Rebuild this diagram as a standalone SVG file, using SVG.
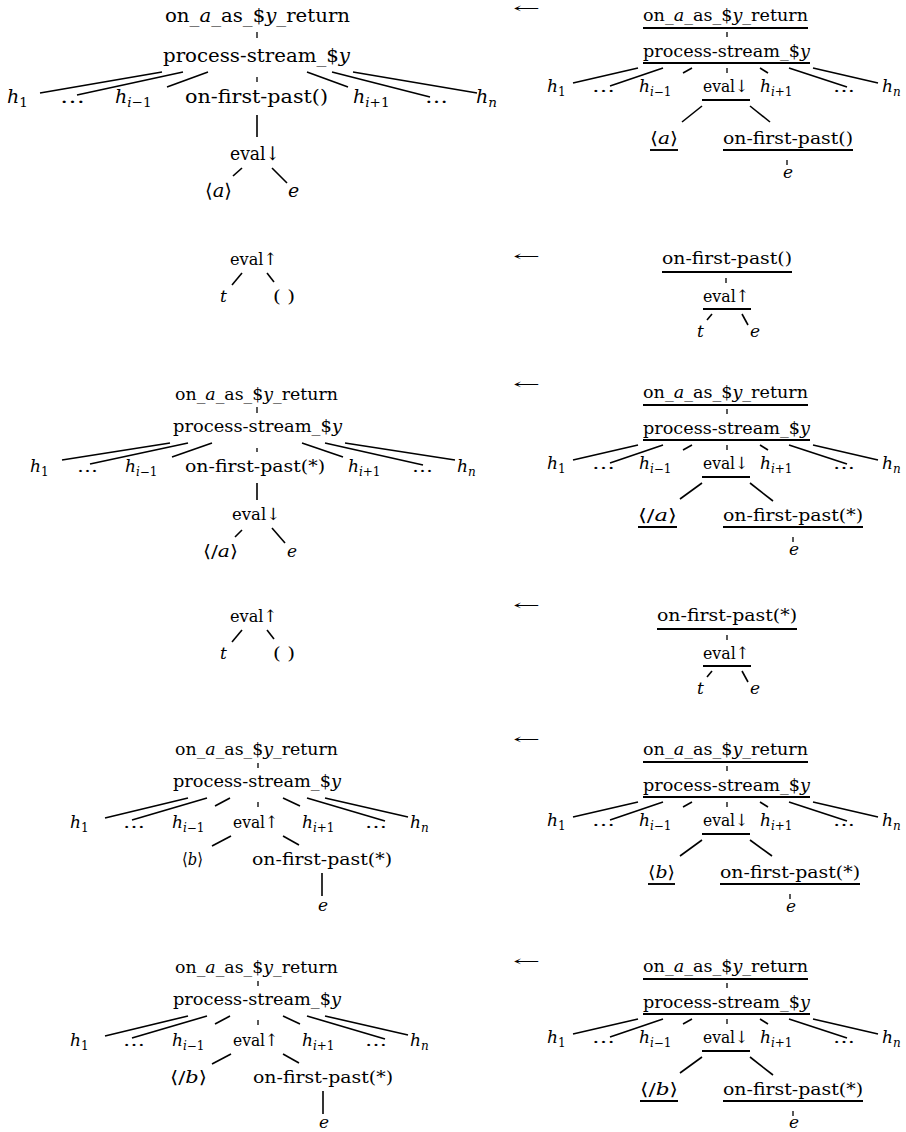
<svg xmlns="http://www.w3.org/2000/svg" width="906" height="1132" viewBox="0 0 906 1132">
<style>
.t{font-family:'DejaVu Serif','Liberation Serif',serif;font-size:17px;fill:#000}
.big{font-size:19px}
.ar{font-size:14px}
.i{font-style:italic}
.sb{font-size:12px}
.sbb{font-size:13.5px}
.e{stroke:#000;stroke-width:1.6;fill:none;stroke-linecap:butt}
.u{stroke:#000;stroke-width:1.9}
.tk{stroke:#000;stroke-width:1.3}
</style>
<rect width="906" height="1132" fill="#fff"/>

<g id="connectors">
 <g id="edges-p1l">
  <line class="tk" x1="257" y1="32" x2="257" y2="38"/>
  <line class="e" x1="162" y1="72" x2="40" y2="93"/>
  <line class="e" x1="183" y1="72" x2="77" y2="95"/>
  <line class="e" x1="208" y1="72" x2="167" y2="87"/>
  <line class="tk" x1="257" y1="77" x2="257" y2="82"/>
  <line class="e" x1="307" y1="72" x2="348" y2="87"/>
  <line class="e" x1="332" y1="72" x2="430" y2="97"/>
  <line class="e" x1="353" y1="72" x2="477" y2="93"/>
  <line class="e" x1="257" y1="115" x2="257" y2="137"/>
  <line class="e" x1="242" y1="168" x2="233" y2="176"/>
  <line class="e" x1="272" y1="168" x2="287" y2="183"/>
 </g>
 <g id="edges-p1r">
  <line class="u" x1="643" y1="28" x2="808" y2="28"/>
  <line class="tk" x1="727" y1="32" x2="727" y2="37"/>
  <line class="u" x1="643" y1="63" x2="810" y2="63"/>
  <line class="e" x1="638" y1="68" x2="573" y2="83"/>
  <line class="e" x1="663" y1="68" x2="610" y2="86"/>
  <line class="e" x1="692" y1="68" x2="683" y2="73"/>
  <line class="tk" x1="727" y1="68" x2="727" y2="73"/>
  <line class="e" x1="760" y1="68" x2="768" y2="73"/>
  <line class="e" x1="789" y1="68" x2="847" y2="87"/>
  <line class="e" x1="813" y1="68" x2="878" y2="83"/>
  <line class="u" x1="702" y1="100" x2="750" y2="100"/>
  <line class="e" x1="702" y1="106" x2="682" y2="122"/>
  <line class="e" x1="750" y1="106" x2="770" y2="122"/>
  <line class="u" x1="650" y1="150" x2="678" y2="150"/>
  <line class="u" x1="723" y1="150" x2="853" y2="150"/>
  <line class="tk" x1="787" y1="160" x2="787" y2="165"/>
 </g>
 <g id="edges-p2l">
  <line class="e" x1="242" y1="273" x2="232" y2="285"/>
  <line class="e" x1="267" y1="273" x2="274" y2="282"/>
 </g>
 <g id="edges-p2r">
  <line class="u" x1="662" y1="272" x2="792" y2="272"/>
  <line class="tk" x1="726" y1="278" x2="726" y2="283"/>
  <line class="u" x1="703" y1="309" x2="751" y2="309"/>
  <line class="e" x1="712" y1="314" x2="707" y2="320"/>
  <line class="e" x1="742" y1="314" x2="748" y2="325"/>
 </g>
 <g id="edges-p3l">
  <line class="tk" x1="257" y1="407" x2="257" y2="413"/>
  <line class="e" x1="170" y1="443" x2="62" y2="460"/>
  <line class="e" x1="188" y1="443" x2="90" y2="464"/>
  <line class="e" x1="212" y1="443" x2="172" y2="457"/>
  <line class="tk" x1="257" y1="448" x2="257" y2="452"/>
  <line class="e" x1="302" y1="443" x2="343" y2="457"/>
  <line class="e" x1="325" y1="443" x2="423" y2="465"/>
  <line class="e" x1="345" y1="443" x2="455" y2="460"/>
  <line class="e" x1="257" y1="483" x2="257" y2="500"/>
  <line class="e" x1="242" y1="530" x2="235" y2="537"/>
  <line class="e" x1="272" y1="528" x2="285" y2="543"/>
 </g>
 <g id="edges-p3r">
  <line class="u" x1="643" y1="405" x2="808" y2="405"/>
  <line class="tk" x1="727" y1="409" x2="727" y2="414"/>
  <line class="u" x1="643" y1="440" x2="810" y2="440"/>
  <line class="e" x1="638" y1="445" x2="573" y2="460"/>
  <line class="e" x1="663" y1="445" x2="610" y2="463"/>
  <line class="e" x1="692" y1="445" x2="683" y2="450"/>
  <line class="tk" x1="727" y1="445" x2="727" y2="450"/>
  <line class="e" x1="760" y1="445" x2="768" y2="450"/>
  <line class="e" x1="789" y1="445" x2="847" y2="464"/>
  <line class="e" x1="813" y1="445" x2="878" y2="460"/>
  <line class="u" x1="702" y1="477" x2="750" y2="477"/>
  <line class="e" x1="702" y1="483" x2="680" y2="499"/>
  <line class="e" x1="750" y1="483" x2="773" y2="501"/>
  <line class="u" x1="638" y1="527" x2="677" y2="527"/>
  <line class="u" x1="723" y1="527" x2="863" y2="527"/>
  <line class="tk" x1="793" y1="537" x2="793" y2="542"/>
 </g>
 <g id="edges-p4l">
  <line class="e" x1="242" y1="630" x2="232" y2="642"/>
  <line class="e" x1="267" y1="630" x2="274" y2="639"/>
 </g>
 <g id="edges-p4r">
  <line class="u" x1="657" y1="629" x2="797" y2="629"/>
  <line class="tk" x1="727" y1="635" x2="727" y2="640"/>
  <line class="u" x1="703" y1="666" x2="751" y2="666"/>
  <line class="e" x1="712" y1="671" x2="707" y2="677"/>
  <line class="e" x1="742" y1="671" x2="748" y2="682"/>
 </g>
 <g id="edges-p5l">
  <line class="tk" x1="258" y1="763" x2="258" y2="768"/>
  <line class="e" x1="188" y1="798" x2="105" y2="818"/>
  <line class="e" x1="207" y1="798" x2="132" y2="820"/>
  <line class="e" x1="230" y1="798" x2="215" y2="806"/>
  <line class="tk" x1="258" y1="802" x2="258" y2="807"/>
  <line class="e" x1="283" y1="798" x2="300" y2="806"/>
  <line class="e" x1="307" y1="798" x2="385" y2="821"/>
  <line class="e" x1="325" y1="798" x2="408" y2="817"/>
  <line class="e" x1="231" y1="836" x2="212" y2="846"/>
  <line class="e" x1="283" y1="836" x2="299" y2="845"/>
  <line class="e" x1="322" y1="873" x2="322" y2="896"/>
 </g>
 <g id="edges-p5r">
  <line class="u" x1="643" y1="762" x2="808" y2="762"/>
  <line class="tk" x1="727" y1="766" x2="727" y2="771"/>
  <line class="u" x1="643" y1="797" x2="810" y2="797"/>
  <line class="e" x1="638" y1="802" x2="573" y2="817"/>
  <line class="e" x1="663" y1="802" x2="610" y2="820"/>
  <line class="e" x1="692" y1="802" x2="683" y2="807"/>
  <line class="tk" x1="727" y1="802" x2="727" y2="807"/>
  <line class="e" x1="760" y1="802" x2="768" y2="807"/>
  <line class="e" x1="789" y1="802" x2="847" y2="821"/>
  <line class="e" x1="813" y1="802" x2="878" y2="817"/>
  <line class="u" x1="702" y1="834" x2="750" y2="834"/>
  <line class="e" x1="702" y1="840" x2="680" y2="856"/>
  <line class="e" x1="750" y1="840" x2="772" y2="856"/>
  <line class="u" x1="648" y1="884" x2="675" y2="884"/>
  <line class="u" x1="720" y1="884" x2="860" y2="884"/>
  <line class="tk" x1="790" y1="894" x2="790" y2="899"/>
 </g>
 <g id="edges-p6l">
  <line class="tk" x1="258" y1="981" x2="258" y2="986"/>
  <line class="e" x1="188" y1="1016" x2="105" y2="1036"/>
  <line class="e" x1="207" y1="1016" x2="132" y2="1038"/>
  <line class="e" x1="230" y1="1016" x2="215" y2="1024"/>
  <line class="tk" x1="258" y1="1020" x2="258" y2="1025"/>
  <line class="e" x1="283" y1="1016" x2="300" y2="1024"/>
  <line class="e" x1="307" y1="1016" x2="385" y2="1039"/>
  <line class="e" x1="325" y1="1016" x2="408" y2="1035"/>
  <line class="e" x1="231" y1="1054" x2="212" y2="1064"/>
  <line class="e" x1="283" y1="1054" x2="299" y2="1063"/>
  <line class="e" x1="323" y1="1091" x2="323" y2="1114"/>
 </g>
 <g id="edges-p6r">
  <line class="u" x1="643" y1="979" x2="808" y2="979"/>
  <line class="tk" x1="727" y1="983" x2="727" y2="988"/>
  <line class="u" x1="643" y1="1014" x2="810" y2="1014"/>
  <line class="e" x1="638" y1="1019" x2="573" y2="1034"/>
  <line class="e" x1="663" y1="1019" x2="610" y2="1037"/>
  <line class="e" x1="692" y1="1019" x2="683" y2="1024"/>
  <line class="tk" x1="727" y1="1019" x2="727" y2="1024"/>
  <line class="e" x1="760" y1="1019" x2="768" y2="1024"/>
  <line class="e" x1="789" y1="1019" x2="847" y2="1038"/>
  <line class="e" x1="813" y1="1019" x2="878" y2="1034"/>
  <line class="u" x1="702" y1="1051" x2="750" y2="1051"/>
  <line class="e" x1="702" y1="1057" x2="680" y2="1073"/>
  <line class="e" x1="750" y1="1057" x2="773" y2="1075"/>
  <line class="u" x1="640" y1="1101" x2="678" y2="1101"/>
  <line class="u" x1="723" y1="1101" x2="863" y2="1101"/>
  <line class="tk" x1="793" y1="1111" x2="793" y2="1116"/>
 </g>
</g>

<g id="arrow1"><text class="t ar" x="513" y="13" textLength="27" lengthAdjust="spacingAndGlyphs">←</text></g>
<g id="arrow2"><text class="t ar" x="513" y="261" textLength="27" lengthAdjust="spacingAndGlyphs">←</text></g>
<g id="arrow3"><text class="t ar" x="513" y="389" textLength="27" lengthAdjust="spacingAndGlyphs">←</text></g>
<g id="arrow4"><text class="t ar" x="513" y="610" textLength="27" lengthAdjust="spacingAndGlyphs">←</text></g>
<g id="arrow5"><text class="t ar" x="513" y="744" textLength="27" lengthAdjust="spacingAndGlyphs">←</text></g>
<g id="arrow6"><text class="t ar" x="513" y="966" textLength="27" lengthAdjust="spacingAndGlyphs">←</text></g>

<g id="p1l-root"><text class="t big" x="165" y="22" textLength="185" lengthAdjust="spacingAndGlyphs">on_<tspan class="i">a</tspan>_as_$<tspan class="i">y</tspan>_return</text></g>
<g id="p1l-ps"><text class="t big" x="163" y="62" textLength="187" lengthAdjust="spacingAndGlyphs">process-stream_$<tspan class="i">y</tspan></text></g>
<g id="p1l-h1"><text class="t big" x="7" y="103"><tspan class="i">h</tspan><tspan class="sbb" dy="4">1</tspan></text></g>
<g id="p1l-d1"><text class="t big" x="60" y="103" textLength="25" lengthAdjust="spacingAndGlyphs">…</text></g>
<g id="p1l-him1"><text class="t big" x="115" y="103"><tspan class="i">h</tspan><tspan class="sbb" dy="4"><tspan class="i">i</tspan>−1</tspan></text></g>
<g id="p1l-ofp"><text class="t big" x="185" y="103" textLength="143" lengthAdjust="spacingAndGlyphs">on-first-past()</text></g>
<g id="p1l-hip1"><text class="t big" x="353" y="103"><tspan class="i">h</tspan><tspan class="sbb" dy="4"><tspan class="i">i</tspan>+1</tspan></text></g>
<g id="p1l-d2"><text class="t big" x="425" y="103" textLength="23" lengthAdjust="spacingAndGlyphs">…</text></g>
<g id="p1l-hn"><text class="t big" x="476" y="103"><tspan class="i">h</tspan><tspan class="sbb i" dy="4">n</tspan></text></g>
<g id="p1l-eval"><text class="t big" x="230" y="160" textLength="50" lengthAdjust="spacingAndGlyphs">eval↓</text></g>
<g id="p1l-a"><text class="t big" x="205" y="197" textLength="27" lengthAdjust="spacingAndGlyphs">⟨<tspan class="i">a</tspan>⟩</text></g>
<g id="p1l-e"><text class="t big i" x="288" y="197">e</text></g>

<g id="p1r-root"><text class="t" x="643" y="21" textLength="165" lengthAdjust="spacingAndGlyphs">on_<tspan class="i">a</tspan>_as_$<tspan class="i">y</tspan>_return</text></g>
<g id="p1r-ps"><text class="t" x="643" y="57" textLength="167" lengthAdjust="spacingAndGlyphs">process-stream_$<tspan class="i">y</tspan></text></g>
<g id="p1r-h1"><text class="t" x="547" y="92"><tspan class="i">h</tspan><tspan class="sb" dy="4">1</tspan></text></g>
<g id="p1r-d1"><text class="t" x="592" y="92" textLength="23" lengthAdjust="spacingAndGlyphs">…</text></g>
<g id="p1r-him1"><text class="t" x="639" y="92"><tspan class="i">h</tspan><tspan class="sb" dy="4"><tspan class="i">i</tspan>−1</tspan></text></g>
<g id="p1r-eval"><text class="t" x="703" y="92" textLength="45" lengthAdjust="spacingAndGlyphs">eval↓</text></g>
<g id="p1r-hip1"><text class="t" x="760" y="92"><tspan class="i">h</tspan><tspan class="sb" dy="4"><tspan class="i">i</tspan>+1</tspan></text></g>
<g id="p1r-d2"><text class="t" x="833" y="92" textLength="22" lengthAdjust="spacingAndGlyphs">…</text></g>
<g id="p1r-hn"><text class="t" x="882" y="92"><tspan class="i">h</tspan><tspan class="sb i" dy="4">n</tspan></text></g>
<g id="p1r-a"><text class="t" x="650" y="144" textLength="28" lengthAdjust="spacingAndGlyphs">⟨<tspan class="i">a</tspan>⟩</text></g>
<g id="p1r-ofp"><text class="t" x="723" y="144" textLength="130" lengthAdjust="spacingAndGlyphs">on-first-past()</text></g>
<g id="p1r-e"><text class="t i" x="783" y="178">e</text></g>

<g id="p2l-eval"><text class="t" x="230" y="265" textLength="47" lengthAdjust="spacingAndGlyphs">eval↑</text></g>
<g id="p2l-t"><text class="t i" x="220" y="302">t</text></g>
<g id="p2l-nil"><text class="t" x="273" y="302" textLength="22" lengthAdjust="spacingAndGlyphs">( )</text></g>

<g id="p2r-ofp"><text class="t" x="662" y="264" textLength="130" lengthAdjust="spacingAndGlyphs">on-first-past()</text></g>
<g id="p2r-eval"><text class="t" x="703" y="302" textLength="46" lengthAdjust="spacingAndGlyphs">eval↑</text></g>
<g id="p2r-t"><text class="t i" x="697" y="337">t</text></g>
<g id="p2r-e"><text class="t i" x="750" y="337">e</text></g>

<g id="p3l-root"><text class="t" x="175" y="400" textLength="163" lengthAdjust="spacingAndGlyphs">on_<tspan class="i">a</tspan>_as_$<tspan class="i">y</tspan>_return</text></g>
<g id="p3l-ps"><text class="t" x="173" y="432" textLength="169" lengthAdjust="spacingAndGlyphs">process-stream_$<tspan class="i">y</tspan></text></g>
<g id="p3l-h1"><text class="t" x="30" y="472"><tspan class="i">h</tspan><tspan class="sb" dy="4">1</tspan></text></g>
<g id="p3l-d1"><text class="t" x="77" y="472" textLength="21" lengthAdjust="spacingAndGlyphs">…</text></g>
<g id="p3l-him1"><text class="t" x="125" y="472"><tspan class="i">h</tspan><tspan class="sb" dy="4"><tspan class="i">i</tspan>−1</tspan></text></g>
<g id="p3l-ofp"><text class="t" x="185" y="472" textLength="140" lengthAdjust="spacingAndGlyphs">on-first-past(*)</text></g>
<g id="p3l-hip1"><text class="t" x="348" y="472"><tspan class="i">h</tspan><tspan class="sb" dy="4"><tspan class="i">i</tspan>+1</tspan></text></g>
<g id="p3l-d2"><text class="t" x="412" y="472" textLength="21" lengthAdjust="spacingAndGlyphs">…</text></g>
<g id="p3l-hn"><text class="t" x="457" y="472"><tspan class="i">h</tspan><tspan class="sb i" dy="4">n</tspan></text></g>
<g id="p3l-eval"><text class="t" x="232" y="520" textLength="48" lengthAdjust="spacingAndGlyphs">eval↓</text></g>
<g id="p3l-a"><text class="t" x="203" y="557" textLength="35" lengthAdjust="spacingAndGlyphs">⟨/<tspan class="i">a</tspan>⟩</text></g>
<g id="p3l-e"><text class="t i" x="287" y="557">e</text></g>

<g id="p3r-root"><text class="t" x="643" y="398" textLength="165" lengthAdjust="spacingAndGlyphs">on_<tspan class="i">a</tspan>_as_$<tspan class="i">y</tspan>_return</text></g>
<g id="p3r-ps"><text class="t" x="643" y="434" textLength="167" lengthAdjust="spacingAndGlyphs">process-stream_$<tspan class="i">y</tspan></text></g>
<g id="p3r-h1"><text class="t" x="547" y="469"><tspan class="i">h</tspan><tspan class="sb" dy="4">1</tspan></text></g>
<g id="p3r-d1"><text class="t" x="592" y="469" textLength="23" lengthAdjust="spacingAndGlyphs">…</text></g>
<g id="p3r-him1"><text class="t" x="639" y="469"><tspan class="i">h</tspan><tspan class="sb" dy="4"><tspan class="i">i</tspan>−1</tspan></text></g>
<g id="p3r-eval"><text class="t" x="703" y="469" textLength="45" lengthAdjust="spacingAndGlyphs">eval↓</text></g>
<g id="p3r-hip1"><text class="t" x="760" y="469"><tspan class="i">h</tspan><tspan class="sb" dy="4"><tspan class="i">i</tspan>+1</tspan></text></g>
<g id="p3r-d2"><text class="t" x="833" y="469" textLength="22" lengthAdjust="spacingAndGlyphs">…</text></g>
<g id="p3r-hn"><text class="t" x="882" y="469"><tspan class="i">h</tspan><tspan class="sb i" dy="4">n</tspan></text></g>
<g id="p3r-a"><text class="t" x="638" y="521" textLength="39" lengthAdjust="spacingAndGlyphs">⟨/<tspan class="i">a</tspan>⟩</text></g>
<g id="p3r-ofp"><text class="t" x="723" y="521" textLength="140" lengthAdjust="spacingAndGlyphs">on-first-past(*)</text></g>
<g id="p3r-e"><text class="t i" x="789" y="555">e</text></g>

<g id="p4l-eval"><text class="t" x="230" y="622" textLength="47" lengthAdjust="spacingAndGlyphs">eval↑</text></g>
<g id="p4l-t"><text class="t i" x="220" y="659">t</text></g>
<g id="p4l-nil"><text class="t" x="273" y="659" textLength="22" lengthAdjust="spacingAndGlyphs">( )</text></g>

<g id="p4r-ofp"><text class="t" x="657" y="621" textLength="140" lengthAdjust="spacingAndGlyphs">on-first-past(*)</text></g>
<g id="p4r-eval"><text class="t" x="703" y="659" textLength="46" lengthAdjust="spacingAndGlyphs">eval↑</text></g>
<g id="p4r-t"><text class="t i" x="697" y="694">t</text></g>
<g id="p4r-e"><text class="t i" x="750" y="694">e</text></g>

<g id="p5l-root"><text class="t" x="175" y="755" textLength="163" lengthAdjust="spacingAndGlyphs">on_<tspan class="i">a</tspan>_as_$<tspan class="i">y</tspan>_return</text></g>
<g id="p5l-ps"><text class="t" x="173" y="787" textLength="168" lengthAdjust="spacingAndGlyphs">process-stream_$<tspan class="i">y</tspan></text></g>
<g id="p5l-h1"><text class="t" x="70" y="828"><tspan class="i">h</tspan><tspan class="sb" dy="4">1</tspan></text></g>
<g id="p5l-d1"><text class="t" x="123" y="828" textLength="22" lengthAdjust="spacingAndGlyphs">…</text></g>
<g id="p5l-him1"><text class="t" x="172" y="828"><tspan class="i">h</tspan><tspan class="sb" dy="4"><tspan class="i">i</tspan>−1</tspan></text></g>
<g id="p5l-eval"><text class="t" x="233" y="828" textLength="45" lengthAdjust="spacingAndGlyphs">eval↑</text></g>
<g id="p5l-hip1"><text class="t" x="302" y="828"><tspan class="i">h</tspan><tspan class="sb" dy="4"><tspan class="i">i</tspan>+1</tspan></text></g>
<g id="p5l-d2"><text class="t" x="365" y="828" textLength="22" lengthAdjust="spacingAndGlyphs">…</text></g>
<g id="p5l-hn"><text class="t" x="410" y="828"><tspan class="i">h</tspan><tspan class="sb i" dy="4">n</tspan></text></g>
<g id="p5l-b"><text class="t" x="182" y="865" textLength="21" lengthAdjust="spacingAndGlyphs">⟨<tspan class="i">b</tspan>⟩</text></g>
<g id="p5l-ofp"><text class="t" x="252" y="865" textLength="140" lengthAdjust="spacingAndGlyphs">on-first-past(*)</text></g>
<g id="p5l-e"><text class="t i" x="318" y="911">e</text></g>

<g id="p5r-root"><text class="t" x="643" y="755" textLength="165" lengthAdjust="spacingAndGlyphs">on_<tspan class="i">a</tspan>_as_$<tspan class="i">y</tspan>_return</text></g>
<g id="p5r-ps"><text class="t" x="643" y="791" textLength="167" lengthAdjust="spacingAndGlyphs">process-stream_$<tspan class="i">y</tspan></text></g>
<g id="p5r-h1"><text class="t" x="547" y="826"><tspan class="i">h</tspan><tspan class="sb" dy="4">1</tspan></text></g>
<g id="p5r-d1"><text class="t" x="592" y="826" textLength="23" lengthAdjust="spacingAndGlyphs">…</text></g>
<g id="p5r-him1"><text class="t" x="639" y="826"><tspan class="i">h</tspan><tspan class="sb" dy="4"><tspan class="i">i</tspan>−1</tspan></text></g>
<g id="p5r-eval"><text class="t" x="703" y="826" textLength="45" lengthAdjust="spacingAndGlyphs">eval↓</text></g>
<g id="p5r-hip1"><text class="t" x="760" y="826"><tspan class="i">h</tspan><tspan class="sb" dy="4"><tspan class="i">i</tspan>+1</tspan></text></g>
<g id="p5r-d2"><text class="t" x="833" y="826" textLength="22" lengthAdjust="spacingAndGlyphs">…</text></g>
<g id="p5r-hn"><text class="t" x="882" y="826"><tspan class="i">h</tspan><tspan class="sb i" dy="4">n</tspan></text></g>
<g id="p5r-b"><text class="t" x="648" y="878" textLength="27" lengthAdjust="spacingAndGlyphs">⟨<tspan class="i">b</tspan>⟩</text></g>
<g id="p5r-ofp"><text class="t" x="720" y="878" textLength="140" lengthAdjust="spacingAndGlyphs">on-first-past(*)</text></g>
<g id="p5r-e"><text class="t i" x="786" y="912">e</text></g>

<g id="p6l-root"><text class="t" x="175" y="973" textLength="163" lengthAdjust="spacingAndGlyphs">on_<tspan class="i">a</tspan>_as_$<tspan class="i">y</tspan>_return</text></g>
<g id="p6l-ps"><text class="t" x="173" y="1005" textLength="168" lengthAdjust="spacingAndGlyphs">process-stream_$<tspan class="i">y</tspan></text></g>
<g id="p6l-h1"><text class="t" x="70" y="1046"><tspan class="i">h</tspan><tspan class="sb" dy="4">1</tspan></text></g>
<g id="p6l-d1"><text class="t" x="123" y="1046" textLength="22" lengthAdjust="spacingAndGlyphs">…</text></g>
<g id="p6l-him1"><text class="t" x="172" y="1046"><tspan class="i">h</tspan><tspan class="sb" dy="4"><tspan class="i">i</tspan>−1</tspan></text></g>
<g id="p6l-eval"><text class="t" x="233" y="1046" textLength="45" lengthAdjust="spacingAndGlyphs">eval↑</text></g>
<g id="p6l-hip1"><text class="t" x="302" y="1046"><tspan class="i">h</tspan><tspan class="sb" dy="4"><tspan class="i">i</tspan>+1</tspan></text></g>
<g id="p6l-d2"><text class="t" x="365" y="1046" textLength="22" lengthAdjust="spacingAndGlyphs">…</text></g>
<g id="p6l-hn"><text class="t" x="410" y="1046"><tspan class="i">h</tspan><tspan class="sb i" dy="4">n</tspan></text></g>
<g id="p6l-b"><text class="t" x="170" y="1083" textLength="37" lengthAdjust="spacingAndGlyphs">⟨/<tspan class="i">b</tspan>⟩</text></g>
<g id="p6l-ofp"><text class="t" x="253" y="1083" textLength="140" lengthAdjust="spacingAndGlyphs">on-first-past(*)</text></g>
<g id="p6l-e"><text class="t i" x="319" y="1128">e</text></g>

<g id="p6r-root"><text class="t" x="643" y="972" textLength="165" lengthAdjust="spacingAndGlyphs">on_<tspan class="i">a</tspan>_as_$<tspan class="i">y</tspan>_return</text></g>
<g id="p6r-ps"><text class="t" x="643" y="1008" textLength="167" lengthAdjust="spacingAndGlyphs">process-stream_$<tspan class="i">y</tspan></text></g>
<g id="p6r-h1"><text class="t" x="547" y="1043"><tspan class="i">h</tspan><tspan class="sb" dy="4">1</tspan></text></g>
<g id="p6r-d1"><text class="t" x="592" y="1043" textLength="23" lengthAdjust="spacingAndGlyphs">…</text></g>
<g id="p6r-him1"><text class="t" x="639" y="1043"><tspan class="i">h</tspan><tspan class="sb" dy="4"><tspan class="i">i</tspan>−1</tspan></text></g>
<g id="p6r-eval"><text class="t" x="703" y="1043" textLength="45" lengthAdjust="spacingAndGlyphs">eval↓</text></g>
<g id="p6r-hip1"><text class="t" x="760" y="1043"><tspan class="i">h</tspan><tspan class="sb" dy="4"><tspan class="i">i</tspan>+1</tspan></text></g>
<g id="p6r-d2"><text class="t" x="833" y="1043" textLength="22" lengthAdjust="spacingAndGlyphs">…</text></g>
<g id="p6r-hn"><text class="t" x="882" y="1043"><tspan class="i">h</tspan><tspan class="sb i" dy="4">n</tspan></text></g>
<g id="p6r-b"><text class="t" x="640" y="1095" textLength="38" lengthAdjust="spacingAndGlyphs">⟨/<tspan class="i">b</tspan>⟩</text></g>
<g id="p6r-ofp"><text class="t" x="723" y="1095" textLength="140" lengthAdjust="spacingAndGlyphs">on-first-past(*)</text></g>
<g id="p6r-e"><text class="t i" x="789" y="1128">e</text></g>
</svg>
